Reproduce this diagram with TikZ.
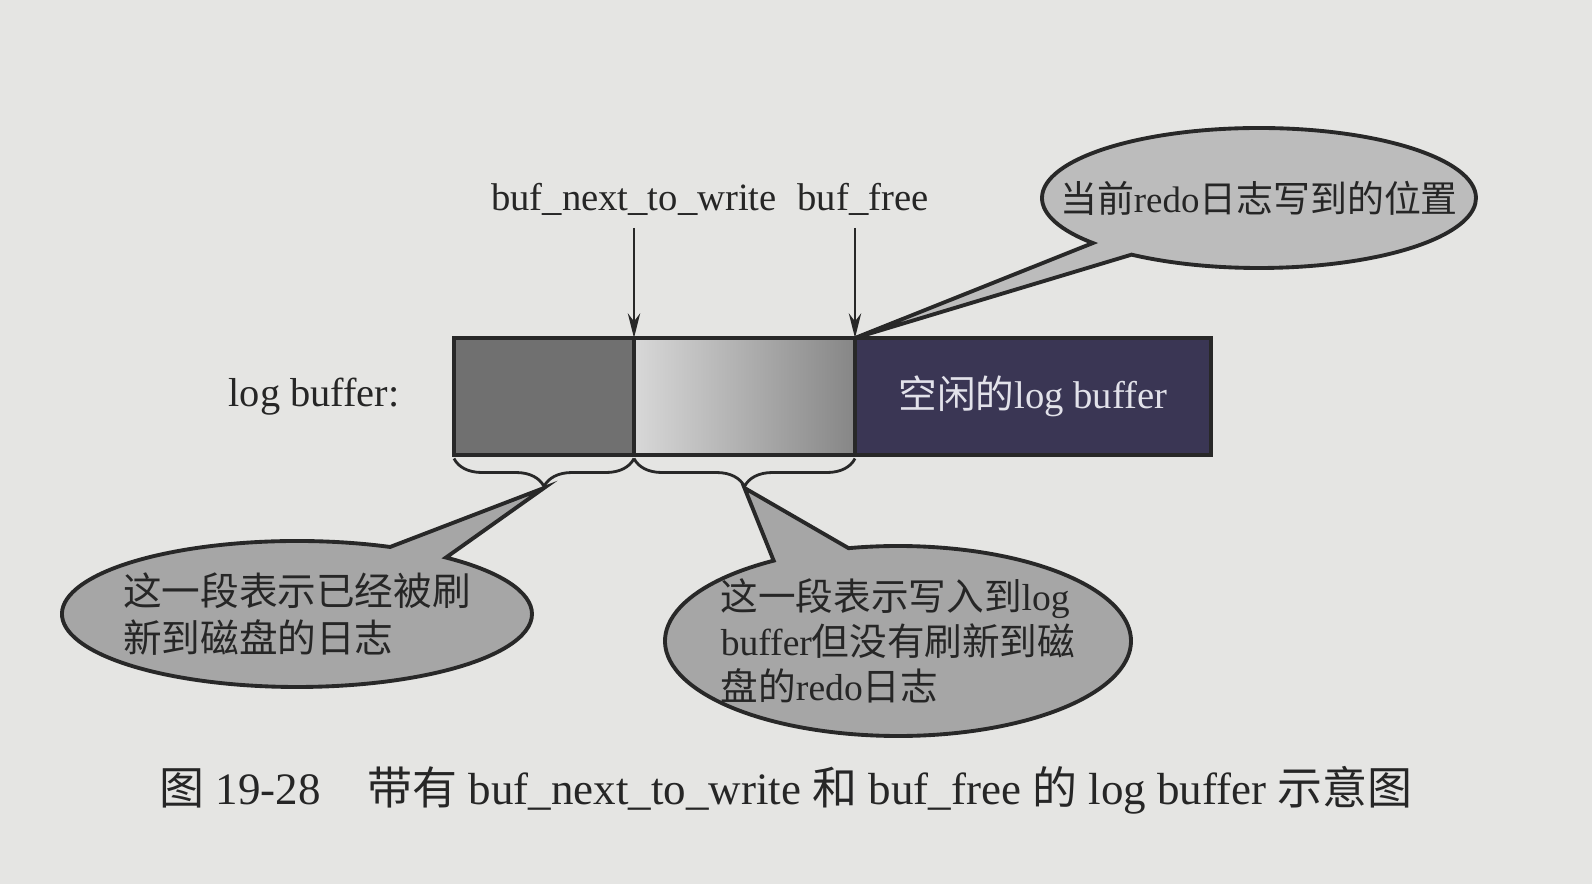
\documentclass[tikz,border=0pt]{standalone}
\usepackage{fontspec}
\setmainfont{Liberation Serif}
\newfontfamily\cjk{Noto Sans CJK SC}
\usepackage{tikz}
\usetikzlibrary{arrows.meta,shapes.callouts,positioning,decorations.pathreplacing}
\usepackage{xcolor}
\definecolor{lbpage}{RGB}{229,229,227}
\definecolor{lbline}{RGB}{40,40,40}
\definecolor{lbflushed}{RGB}{112,112,112}
\definecolor{lblight}{RGB}{216,216,216}
\definecolor{lbmid}{RGB}{134,134,134}
\definecolor{lbfree}{RGB}{58,54,84}
\definecolor{lbfreetext}{RGB}{226,226,234}
\definecolor{lbbubble}{RGB}{166,166,166}
\definecolor{lbbubblelight}{RGB}{188,188,188}
\definecolor{lbtext}{RGB}{38,38,38}
\newcommand{\zh}[1]{{\cjk #1}}
\tikzstyle{segbox} = [rectangle, draw=lbline, line width=1.2pt, outer sep=0pt, inner sep=0pt, minimum height=1.17cm]
\tikzstyle{ptrarrow} = [thick, -{Stealth[length=7pt,width=3.5pt]}, color=lbline]
\tikzstyle{segbrace} = [draw=lbline, line width=0.8pt, decorate, decoration={brace, mirror, amplitude=0.28cm, raise=1pt}]
\tikzstyle{bubble} = [ellipse callout, draw=lbline, line width=1.1pt, fill=lbbubble, text=lbtext, align=left, inner sep=-0.6cm, callout pointer arc=20, font=\fontsize{11}{13.5}\selectfont]
\tikzstyle{plaintext} = [text=lbtext, font=\fontsize{11}{13}\selectfont]

\begin{document}
\begin{tikzpicture}
% page
\fill[lbpage] (0,0) rectangle (15.92,-8.84);
\useasboundingbox (0,0) rectangle (15.92,-8.84);

% log buffer
\node (flushed) [segbox, fill=lbflushed, minimum width=1.8cm, anchor=north west] at (4.54,-3.38) {};
\node (written) [segbox, left color=lblight, right color=lbmid, minimum width=2.21cm, right=0pt of flushed] {};
\node (free) [segbox, fill=lbfree, text=lbfreetext, minimum width=3.56cm, right=0pt of written, font=\fontsize{11}{13}\selectfont] {\zh{空闲的}log buffer};
\node (lbname) [plaintext, left=0.42cm of flushed, font=\fontsize{11.5}{13}\selectfont] {log buffer:};

% pointers
\node (nextname) [plaintext, above=1.1cm of flushed.north east] {buf\_next\_to\_write};
\node (freename) [plaintext, above=1.1cm of written.north east, xshift=0.08cm] {buf\_free};
\draw[ptrarrow] (nextname.south -| flushed.north east) -- (flushed.north east);
\draw[ptrarrow] (freename.south -| written.north east) -- (written.north east);

% braces
\draw[segbrace] (flushed.south west) -- (flushed.south east);
\draw[segbrace] (written.south west) -- (written.south east);
\coordinate[below=0.33cm of flushed.south] (flushedtip);
\coordinate[below=0.33cm of written.south] (writtentip);

% callouts
\node (flushedbubble) [bubble, minimum width=4.7cm, minimum height=1.46cm, callout pointer arc=16, callout absolute pointer={(flushedtip)}] at (2.97,-6.14) {\zh{这一段表示已经被刷}\\\zh{新到磁盘的日志}};
\node (writtenbubble) [bubble, minimum width=4.66cm, minimum height=1.9cm, font=\fontsize{10.7}{12.9}\selectfont, callout absolute pointer={(writtentip)}] at (8.98,-6.41) {\zh{这一段表示写入到}log\\buffer\zh{但没有刷新到磁}\\\zh{盘的}redo\zh{日志}};
\node (freebubble) [bubble, fill=lbbubblelight, minimum width=4.34cm, minimum height=1.4cm, callout pointer arc=14, font=\fontsize{10.5}{12}\selectfont, callout absolute pointer={(written.north east)}] at (12.59,-1.98) {\zh{当前}redo\zh{日志写到的位置}};

% caption
\node (caption) [text=lbtext, font=\fontsize{12.8}{15}\selectfont] at (7.86,-7.9) {\zh{图} 19-28\hspace{1.05em}\zh{带有} buf\_next\_to\_write \zh{和} buf\_free \zh{的} log buffer \zh{示意图}};
\end{tikzpicture}
\end{document}
